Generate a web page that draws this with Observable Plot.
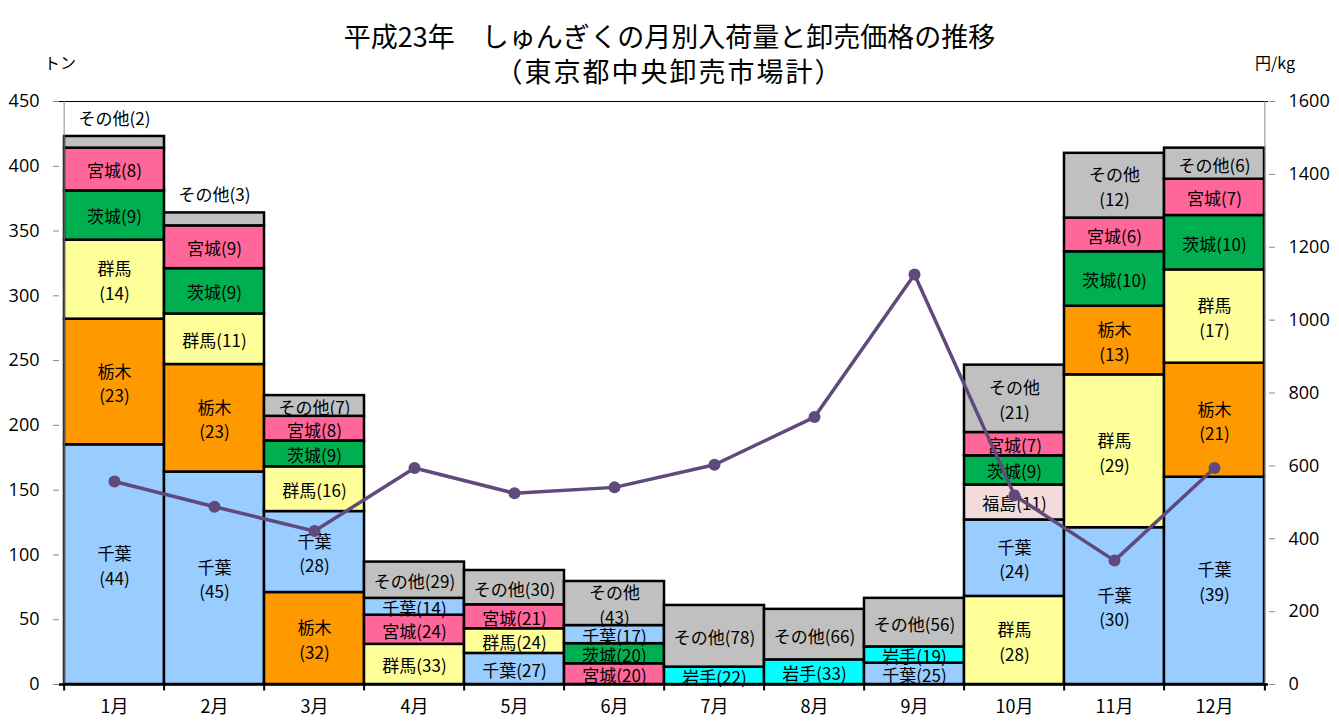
<!DOCTYPE html>
<html>
<head>
<meta charset="utf-8">
<script src="https://cdn.jsdelivr.net/npm/d3@7"></script>
<script src="https://cdn.jsdelivr.net/npm/@observablehq/plot@0.6"></script>
<style>
  html, body { margin: 0; padding: 0; background: #fff; }
  #header { position: relative; width: 1339px; height: 80px; font-family: "Noto Sans CJK JP", sans-serif; color: #000; }
  #title { position: absolute; left: 0; width: 1339px; top: 18px; text-align: center; font-size: 27px; line-height: 35px; }
  #title .l2 { letter-spacing: 2px; }
  .unit { position: absolute; top: 50px; font-size: 16px; }
  #chart svg { display: block; }
</style>
</head>
<body>
<div id="header">
  <div id="title">平成23年　しゅんぎくの月別入荷量と卸売価格の推移<br><span class="l2">（東京都中央卸売市場計）</span></div>
  <div class="unit" style="left:44px">トン</div>
  <div class="unit" style="left:1255px">円/kg</div>
</div>
<div id="chart"></div>
<script>
// ---- data ----
const months = ["1月","2月","3月","4月","5月","6月","7月","8月","9月","10月","11月","12月"];
const prefectures = ["千葉","栃木","群馬","茨城","宮城","岩手","福島","その他"];

// arrival volume (tons) per prefecture per month
const chiba    = [185, 164, 62.5, 13, 24, 14, null, null, 16.5, 59, 121, 160];
const tochigi  = [97, 83, 71, null, null, null, null, null, null, null, 53, 88];
const gunma    = [61, 39, 34.5, 31, 19, null, null, null, null, 68, 118, 72];
const ibaraki  = [38, 35, 20, null, null, 15.5, null, null, null, 22.5, 42, 42];
const miyagi   = [33, 33, 19, 22.5, 18.5, 16, null, null, null, 18, 26, 28];
const iwate    = [null, null, null, null, null, null, 13.4, 19, 12.5, null, null, null];
const fukushima= [null, null, null, null, null, null, null, null, null, 27, null, null];
const others   = [9, 10, 16, 28, 26.5, 34, 47.6, 39, 37.5, 52, 50, 24];

// share (%) shown in labels
const chibaPct    = [44, 45, 28, 14, 27, 17, null, null, 25, 24, 30, 39];
const tochigiPct  = [23, 23, 32, null, null, null, null, null, null, null, 13, 21];
const gunmaPct    = [14, 11, 16, 33, 24, null, null, null, null, 28, 29, 17];
const ibarakiPct  = [9, 9, 9, null, null, 20, null, null, null, 9, 10, 10];
const miyagiPct   = [8, 9, 8, 24, 21, 20, null, null, null, 7, 6, 7];
const iwatePct    = [null, null, null, null, null, null, 22, 33, 19, null, null, null];
const fukushimaPct= [null, null, null, null, null, null, null, null, null, 11, null, null];
const othersPct   = [2, 3, 7, 29, 30, 43, 78, 66, 56, 21, 12, 6];

// wholesale price (yen/kg)
const price = [557, 488, 421, 594, 525, 541, 603, 734, 1125, 519, 340, 594];

const leftTicks = [0, 50, 100, 150, 200, 250, 300, 350, 400, 450];
const rightTicks = [0, 200, 400, 600, 800, 1000, 1200, 1400, 1600];
const twoLineExtra = [["6月", "その他"]];

const colors = {
  "千葉": "#99CCFF", "栃木": "#FF9900", "群馬": "#FFFF99", "茨城": "#00B050",
  "宮城": "#FF6699", "岩手": "#00FFFF", "福島": "#F2DCDB", "その他": "#C0C0C0"
};

// ---- build table ----
const series = [chiba, tochigi, gunma, ibaraki, miyagi, iwate, fukushima, others];
const pcts = [chibaPct, tochigiPct, gunmaPct, ibarakiPct, miyagiPct, iwatePct, fukushimaPct, othersPct];
let rows = [];
months.forEach((m, i) => {
  const r = [];
  prefectures.forEach((p, j) => {
    if (series[j][i] != null) r.push({month: m, pref: p, value: series[j][i], pct: pcts[j][i]});
  });
  r.sort((a, b) => (a.pref === "その他") - (b.pref === "その他") || b.value - a.value);
  rows = rows.concat(r);
});
rows.forEach(d => {
  const two = d.value >= 50 || twoLineExtra.some(([m, p]) => m === d.month && p === d.pref);
  d.outside = d.value < 12;
  d.label = two ? `${d.pref}\n(${d.pct})` : `${d.pref}(${d.pct})`;
  d.inLabel = d.outside ? "" : d.label;
  d.outLabel = d.outside ? d.label : "";
});

const yMax = 450, pMax = 1600;
const priceRows = months.map((m, i) => ({month: m, y: price[i] * yMax / pMax}));

const W = 1339, mL = 59, mR = 71;
const bw = (W - mL - mR) / months.length;
const font = "'Noto Sans CJK JP', sans-serif";
const numFont = "'Open Sans', sans-serif";

const chart = Plot.plot({
  width: W,
  height: 648,
  marginLeft: mL,
  marginRight: mR,
  marginTop: 21,
  marginBottom: 44,
  style: {fontFamily: font, background: "#fff", color: "#000"},
  x: {domain: months, padding: 0, label: null},
  y: {domain: [0, yMax], label: null},
  marks: [
    Plot.barY(rows, Plot.stackY({x: "month", y: "value", order: null, fill: d => colors[d.pref], stroke: "#000", strokeWidth: 2.5})),
    Plot.text(rows, Plot.stackY({x: "month", y: "value", order: null, text: "inLabel", fontSize: 17, lineHeight: 1.45, fill: "#000"})),
    Plot.text(rows, Plot.stackY2({x: "month", y: "value", order: null, text: "outLabel", fontSize: 17, dy: -17, fill: "#000"})),
    Plot.ruleY([yMax], {stroke: "#000", strokeWidth: 1}),
    Plot.ruleX([months[0]], {y1: 0, y2: yMax, dx: -bw / 2, stroke: "#888", strokeWidth: 1}),
    Plot.ruleX([months[months.length - 1]], {y1: 0, y2: yMax, dx: bw / 2, stroke: "#888", strokeWidth: 1}),
    Plot.ruleY([0], {stroke: "#000", strokeWidth: 2.5}),
    Plot.ruleX(months, {y1: 0, y2: -5, dx: -bw / 2, stroke: "#000", strokeWidth: 2}),
    Plot.ruleX([months[months.length - 1]], {y1: 0, y2: -5, dx: bw / 2, stroke: "#000", strokeWidth: 2}),
    Plot.axisX({tickSize: 0, tickPadding: 16, fontSize: 18, fontFamily: font, label: null}),
    Plot.axisY({anchor: "left", ticks: leftTicks, tickSize: 6, tickPadding: 14, stroke: "#888", fontSize: 18, fontFamily: numFont, label: null}),
    Plot.axisY({anchor: "right", ticks: rightTicks.map(t => t * yMax / pMax), tickFormat: d => String(Math.round(d * pMax / yMax)), tickSize: 6, tickPadding: 14, stroke: "#888", fontSize: 18, fontFamily: numFont, label: null}),
    Plot.line(priceRows, {x: "month", y: "y", stroke: "#604A7B", strokeWidth: 3.5}),
    Plot.dot(priceRows, {x: "month", y: "y", r: 6, fill: "#604A7B", stroke: "none"})
  ]
});
document.getElementById("chart").appendChild(chart);
</script>
</body>
</html>
